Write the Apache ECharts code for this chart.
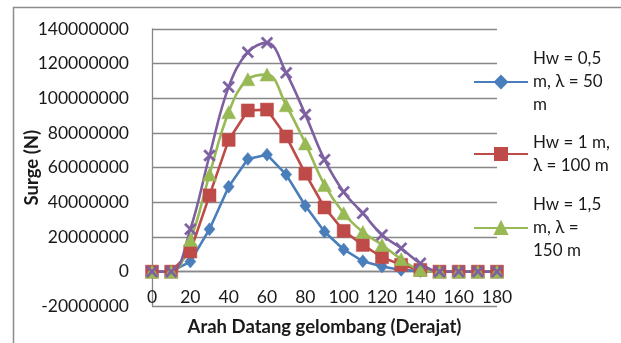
<!DOCTYPE html>
<html>
<head>
<meta charset="utf-8">
<script src="https://cdn.jsdelivr.net/npm/echarts@6/dist/echarts.min.js"></script>
<style>
  html, body { margin: 0; padding: 0; background: #fff; }
  #chart { width: 621px; height: 343px; }
</style>
</head>
<body>
<div id="chart"></div>
<script>
// Wave incidence angle (degrees)
const angles = [0, 10, 20, 30, 40, 50, 60, 70, 80, 90, 100, 110, 120, 130, 140, 150, 160, 170, 180];

// Surge force (N) for each wave condition
const surgeHw05 = [0, 0, 5.8e6, 24.5e6, 49e6, 65e6, 67.5e6, 56e6, 38e6, 23e6, 12.8e6, 6e6, 3e6, 1e6, 0.3e6, 0, 0, 0, 0];
const surgeHw10 = [0, 0, 11.6e6, 44e6, 76e6, 93e6, 93.5e6, 78e6, 56.5e6, 37e6, 23.5e6, 15.4e6, 8.3e6, 3.9e6, 1e6, 0, 0, 0, 0];
const surgeHw15 = [0, 0, 18.3e6, 56e6, 92e6, 111e6, 113.7e6, 96e6, 74e6, 50e6, 33.7e6, 22.8e6, 15.4e6, 7.2e6, 1e6, 0, 0, 0, 0];
const surgeHw20 = [0, 0, 24.5e6, 67e6, 106.6e6, 126.6e6, 132e6, 114.7e6, 90.6e6, 64.6e6, 46e6, 33.7e6, 21.2e6, 13.5e6, 4.8e6, 0, 0, 0, 0];

// Series names (legend labels, wrapped as in the legend box)
const seriesNames = [
  'Hw = 0,5\nm, λ = 50\nm',
  'Hw = 1 m,\nλ = 100 m',
  'Hw = 1,5\nm, λ =\n150 m',
  'Hw = 2 m,\nλ = 200 m'
];

// Axis ranges
const yMin = -20000000, yMax = 140000000, yStep = 20000000;
const xMin = 0, xMax = 180, xStep = 20;

const FONT = 'Lato, "Open Sans", sans-serif';
const FS = 17;
const AXIS_FS = 17.5;
const TITLE_FS = 18.5;
const GRID_GRAY = '#878787';
const LH = 23;

// Plot box
const GRID_TOP = 29, GRID_BOTTOM = 36.7;
const plotHeight = 343 - GRID_TOP - GRID_BOTTOM;
// the horizontal axis crosses the value axis at zero
const zeroLift = plotHeight * (0 - yMin) / (yMax - yMin);

const pairs = vals => angles.map((a, i) => [a, vals[i]]);
const crossPath = 'path://M0,1.4L1.4,0L5,3.6L8.6,0L10,1.4L6.4,5L10,8.6L8.6,10L5,6.4L1.4,10L0,8.6L3.6,5Z';

function makeSeries(name, vals, color, symbol, size, smooth) {
  return {
    name: name,
    type: 'line',
    data: pairs(vals),
    smooth: smooth,
    symbol: symbol,
    symbolSize: size,
    showAllSymbol: true,
    lineStyle: { color: color, width: 2.6 },
    itemStyle: { color: color, borderColor: color, borderWidth: 0.5 },
    emphasis: { disabled: true },
    animation: false
  };
}

function makeLegend(name, lines, iconCenterY) {
  const block = (lines - 1) * LH + lines * LH;
  return {
    show: true,
    orient: 'vertical',
    left: 473,
    top: iconCenterY - block / 2,
    padding: 0,
    itemWidth: 54,
    itemHeight: 15,
    data: [name],
    selectedMode: false,
    textStyle: {
      fontFamily: FONT,
      fontSize: FS,
      color: '#1a1a1a',
      lineHeight: LH,
      padding: [(lines - 1) * LH, 0, 0, 0]
    }
  };
}

const chart = echarts.init(document.getElementById('chart'), null, { renderer: 'canvas' });

chart.setOption({
  backgroundColor: '#ffffff',
  animation: false,
  textStyle: { fontFamily: FONT },
  graphic: [{
    type: 'rect',
    shape: { x: 13.5, y: 7.5, width: 800, height: 600 },
    style: { fill: 'none', stroke: '#8c8c8c', lineWidth: 1.5 },
    silent: true
  }],
  grid: { left: 152, right: 124, top: GRID_TOP, bottom: GRID_BOTTOM, containLabel: false, outerBoundsMode: 'none' },
  legend: [
    makeLegend(seriesNames[0], 3, 82),
    makeLegend(seriesNames[1], 2, 154),
    makeLegend(seriesNames[2], 3, 228)
  ],
  xAxis: {
    type: 'value',
    min: xMin, max: xMax, interval: xStep,
    offset: -zeroLift,
    name: 'Arah Datang gelombang (Derajat)',
    nameLocation: 'middle',
    nameGap: 46,
    nameMoveOverlap: false,
    nameTextStyle: { fontFamily: FONT, fontSize: TITLE_FS, fontWeight: 'bold', color: '#1a1a1a' },
    axisLine: { onZero: false, lineStyle: { color: GRID_GRAY, width: 1.3 } },
    axisTick: { show: false },
    splitLine: { show: false },
    axisLabel: { fontFamily: FONT, fontSize: AXIS_FS, color: '#1a1a1a', margin: 17 }
  },
  yAxis: {
    type: 'value',
    min: yMin, max: yMax, interval: yStep,
    name: 'Surge (N)',
    nameLocation: 'middle',
    nameGap: 110,
    nameRotate: 90,
    nameMoveOverlap: false,
    nameTextStyle: { fontFamily: FONT, fontSize: TITLE_FS, fontWeight: 'bold', color: '#1a1a1a' },
    axisLine: { show: true, onZero: false, lineStyle: { color: GRID_GRAY, width: 1.3 } },
    axisTick: { show: false },
    splitLine: { show: true, lineStyle: { color: GRID_GRAY, width: 1.3 } },
    axisLabel: { fontFamily: FONT, fontSize: AXIS_FS, color: '#1a1a1a', margin: 23, formatter: v => String(v) }
  },
  series: [
    makeSeries(seriesNames[0], surgeHw05, '#4A7EBB', 'diamond', [11, 13], false),
    makeSeries(seriesNames[1], surgeHw10, '#BE4B48', 'rect', 13, false),
    makeSeries(seriesNames[2], surgeHw15, '#98B954', 'triangle', [14, 13], 0.4),
    makeSeries(seriesNames[3], surgeHw20, '#7D60A0', crossPath, 12, 0.4)
  ]
});
</script>
</body>
</html>
